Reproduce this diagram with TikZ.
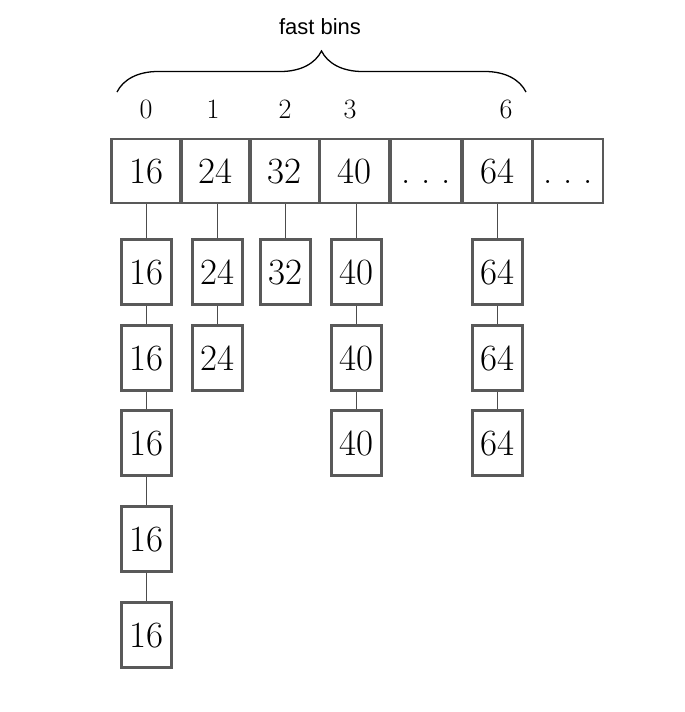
\documentclass[tikz,border=0pt]{standalone}
\usepackage{fontspec}
\newfontfamily\titlefont{Liberation Sans}
\usetikzlibrary{decorations.pathreplacing}
\newcommand{\bindots}{.\kern10.5pt.\kern10.5pt.}
\begin{document}
\begin{tikzpicture}[x=1pt,y=-1pt]
\tikzstyle{binbox}=[draw=black!65,line width=2.6pt,rectangle,minimum width=70pt,minimum height=64pt,inner sep=0pt,font=\fontsize{37}{40}\selectfont,text height=25pt,text depth=0pt]
\tikzstyle{chunk}=[binbox,minimum width=50pt,minimum height=65pt]
\tikzstyle{link}=[draw=black!70,line width=1.3pt]
\tikzstyle{idx}=[inner sep=0pt,font=\fontsize{28}{30}\selectfont]
\useasboundingbox (0,0) rectangle (685,712);

% title and brace
\node[font=\titlefont\fontsize{22}{24}\selectfont] (title) at (320,27) {fast bins};
\coordinate (bl) at (117,92);
\coordinate (br) at (526,92);
\draw[decorate,decoration={brace,amplitude=41pt},line width=1.3pt] (bl) -- (br);

% bin indices
\foreach \i/\x in {0/146,1/213,2/285,3/350,6/506} {
  \node[idx] (l\i) at (\x,109) {\i};
}

% bin array
\foreach \i/\x/\lbl in {0/146.5/16,1/215.5/24,2/284.5/32,3/354.5/40,4/426/\bindots,5/497.5/64,6/568/\bindots} {
  \node[binbox] (t\i) at (\x,171) {\lbl};
}

% free chunks in each bin
\foreach \i/\x/\v/\n in {0/146.5/16/5,1/217.5/24/2,2/285.5/32/1,3/356.5/40/3,5/497.5/64/3} {
  \foreach \j/\y in {1/272,2/358,3/443,4/539,5/635} {
    \ifnum\j>\n\relax\else
      \node[chunk] (c\i-\j) at (\x,\y) {\v};
      \ifnum\j=1
        \draw[link] (c\i-\j |- t\i.south) -- (c\i-\j.north);
      \else
        \pgfmathtruncatemacro\prev{\j-1}
        \draw[link] (c\i-\prev) -- (c\i-\j);
      \fi
    \fi
  }
}
\end{tikzpicture}
\end{document}
